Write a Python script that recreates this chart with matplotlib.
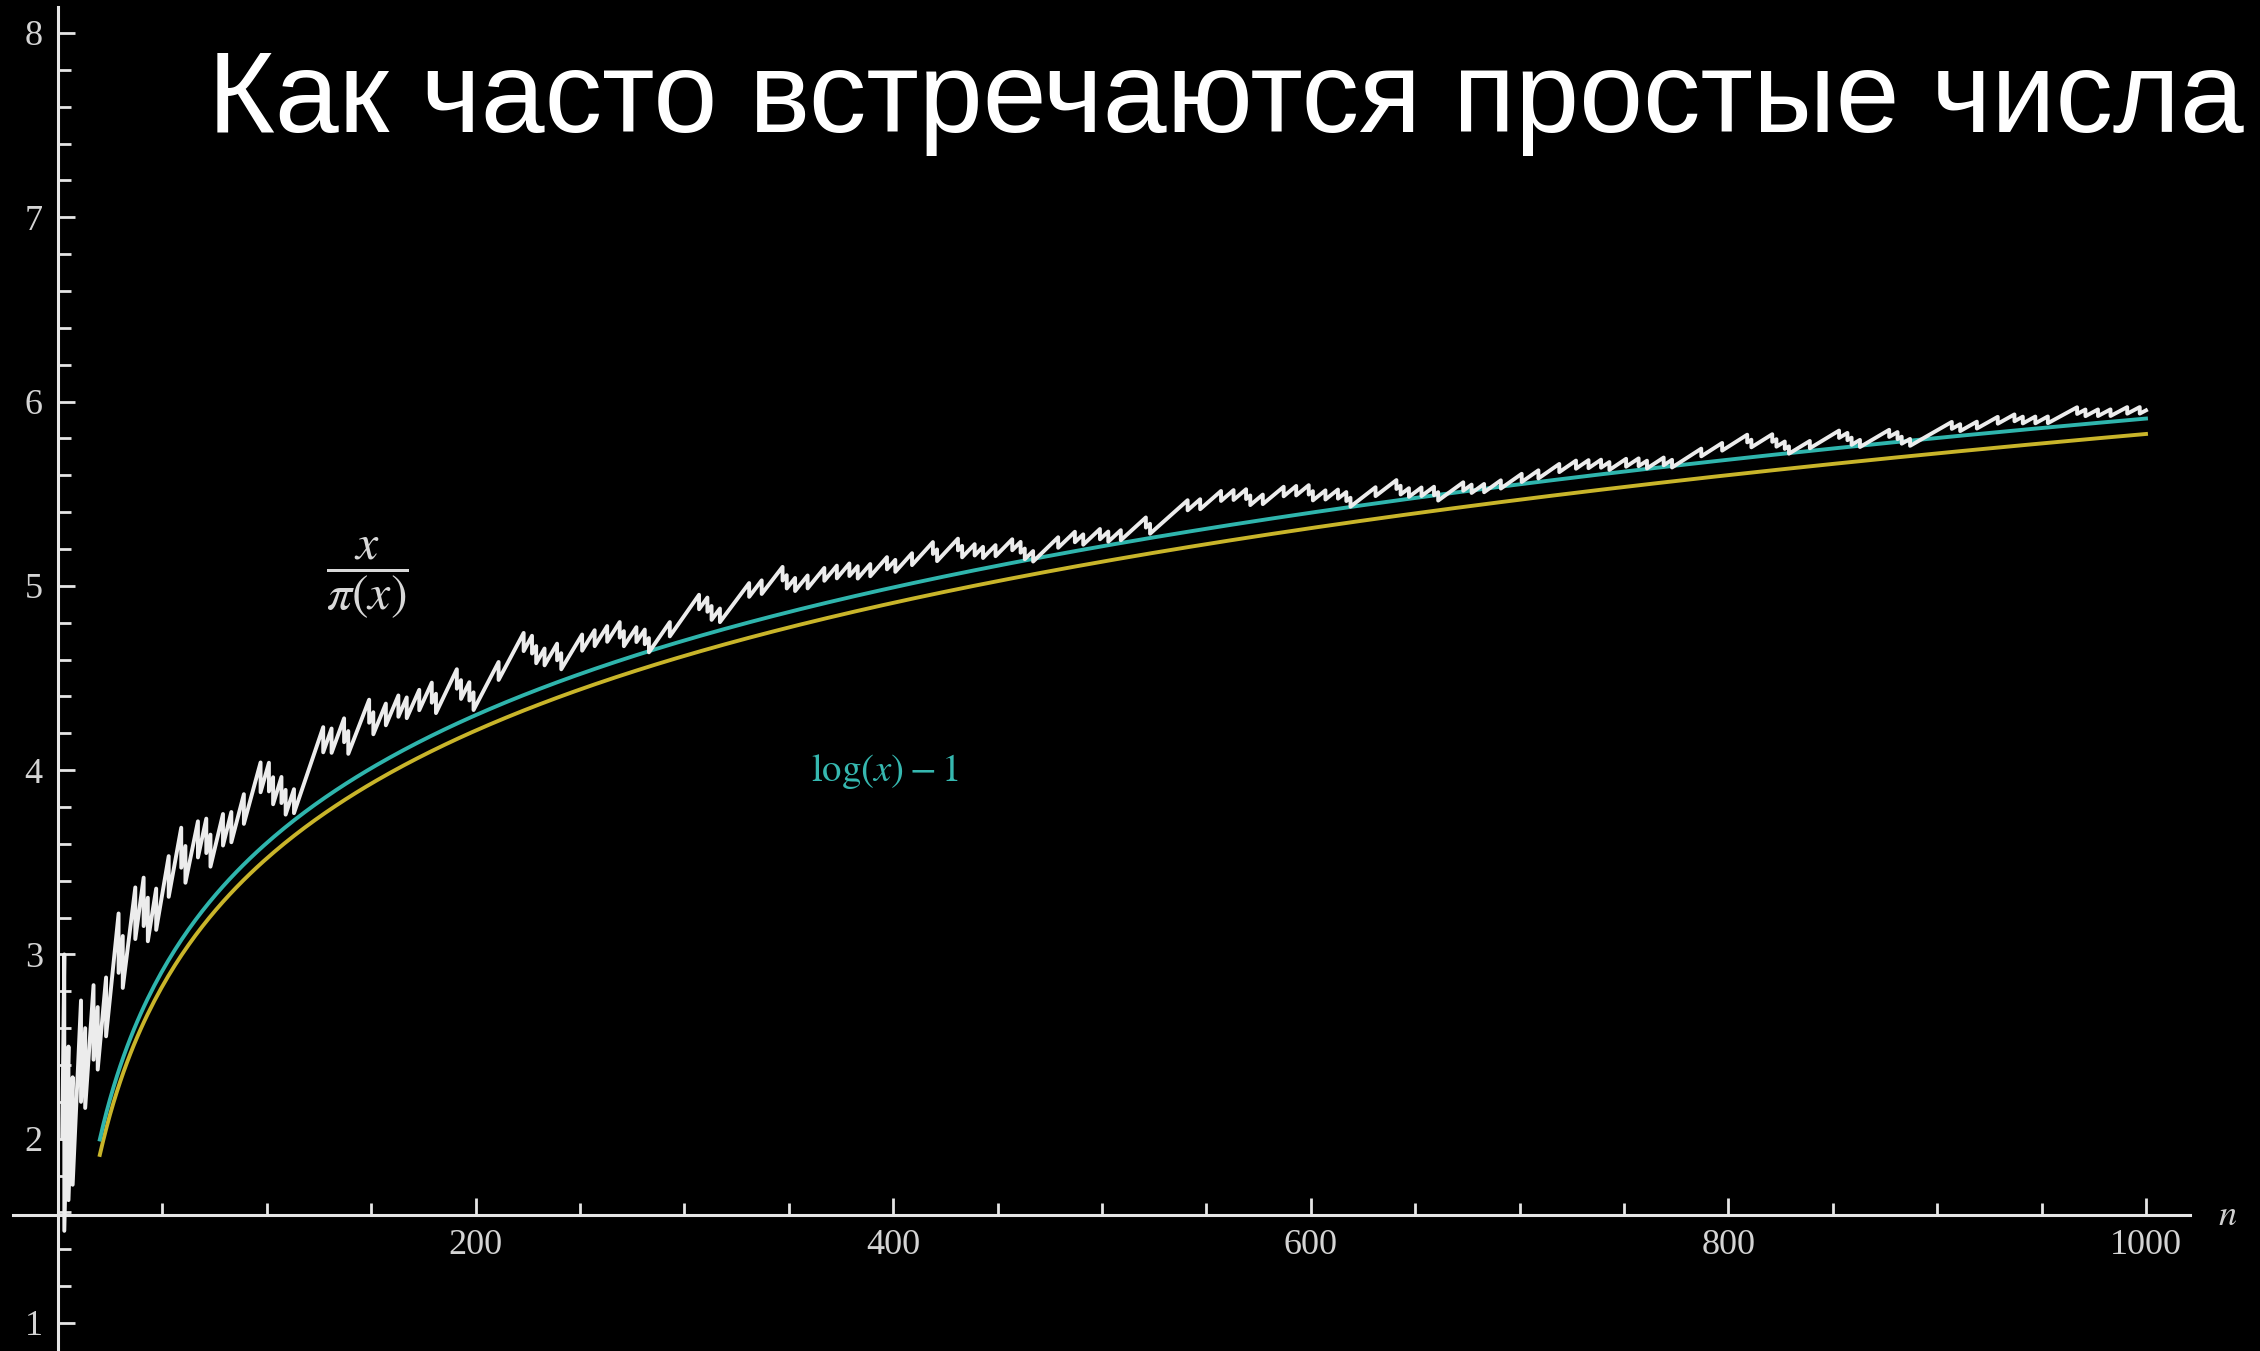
import numpy as np
import matplotlib
matplotlib.use("Agg")
import matplotlib.pyplot as plt
from matplotlib.ticker import FixedLocator

# primes below 1000, pi(x) counts them
primes = [2, 3, 5, 7, 11, 13, 17, 19, 23, 29, 31, 37, 41, 43, 47, 53, 59, 61, 67, 71,
          73, 79, 83, 89, 97, 101, 103, 107, 109, 113, 127, 131, 137, 139, 149, 151, 157,
          163, 167, 173, 179, 181, 191, 193, 197, 199, 211, 223, 227, 229, 233, 239, 241,
          251, 257, 263, 269, 271, 277, 281, 283, 293, 307, 311, 313, 317, 331, 337, 347,
          349, 353, 359, 367, 373, 379, 383, 389, 397, 401, 409, 419, 421, 431, 433, 439,
          443, 449, 457, 461, 463, 467, 479, 487, 491, 499, 503, 509, 521, 523, 541, 547,
          557, 563, 569, 571, 577, 587, 593, 599, 601, 607, 613, 617, 619, 631, 641, 643,
          647, 653, 659, 661, 673, 677, 683, 691, 701, 709, 719, 727, 733, 739, 743, 751,
          757, 761, 769, 773, 787, 797, 809, 811, 821, 823, 827, 829, 839, 853, 857, 859,
          863, 877, 881, 883, 887, 907, 911, 919, 929, 937, 941, 947, 953, 967, 971, 977,
          983, 991, 997]
x_end = 1000
smooth_start = 20
log_shift = 1.0          # log(x) - 1
legendre_shift = 1.08366  # log(x) - 1.08366

x_ticks = [200, 400, 600, 800, 1000]
x_minor = list(range(50, 1001, 50))
y_ticks = [1, 2, 3, 4, 5, 6, 7, 8]
y_minor = [round(0.2 * i, 1) for i in range(5, 41)]

# x / pi(x): rises linearly between primes, drops at each prime
bounds = primes + [x_end]
saw_x, saw_y = [], []
for k in range(len(primes)):
    a, b = bounds[k], bounds[k + 1]
    saw_x += [a, b]
    saw_y += [a / (k + 1), b / (k + 1)]

xs = np.linspace(smooth_start, x_end, 600)

plt.rcParams['mathtext.fontset'] = 'stix'
fig = plt.figure(figsize=(22.6, 13.51), dpi=100, facecolor='black')
ax = fig.add_axes([0, 0, 1, 1], facecolor='black')

ax.plot(xs, np.log(xs) - legendre_shift, color='#c9b52a', lw=2.8, zorder=2)
ax.plot(xs, np.log(xs) - log_shift, color='#2fb5ad', lw=2.8, zorder=3)
ax.plot(saw_x, saw_y, color='#ececec', lw=2.8, zorder=4)

ax.set_xlim(-27.8, 1054.6)
ax.set_ylim(0.848, 8.179)

axis_c = '#e6e6e6'
for s in ['top', 'right']:
    ax.spines[s].set_visible(False)
ax.spines['left'].set_position(('data', 0))
ax.spines['left'].set_bounds(0.848, 8.14)
ax.spines['bottom'].set_position(('data', 1.587))
ax.spines['bottom'].set_bounds(-21.5, 1021)
for s in ['left', 'bottom']:
    ax.spines[s].set_color(axis_c)
    ax.spines[s].set_linewidth(2.2)

ax.xaxis.set_major_locator(FixedLocator(x_ticks))
ax.xaxis.set_minor_locator(FixedLocator([v for v in x_minor if v % 200]))
ax.yaxis.set_major_locator(FixedLocator(y_ticks))
ax.yaxis.set_minor_locator(FixedLocator([v for v in y_minor if v % 1]))
ax.tick_params(which='both', direction='in', color=axis_c, width=2.0,
               labelcolor='#d4d4d4', labelsize=26)
ax.tick_params(which='major', length=12.5)
ax.tick_params(which='minor', length=9)
ax.tick_params(axis='x', pad=10)
ax.tick_params(axis='y', pad=11)
for lbl in ax.get_xticklabels() + ax.get_yticklabels():
    lbl.set_family('Liberation Serif')

ax.text(148, 5.04, r'$\dfrac{x}{\pi(x)}$', color='#d8d8d8', fontsize=36,
        ha='center', va='center')
ax.text(396, 3.99, r'$\log(x) - 1$', color='#36b8b0', fontsize=28,
        ha='center', va='center')
ax.text(1039, 1.587, r'$n$', color='#d0d0d0', fontsize=26,
        ha='center', va='center')

# title scaled to span the slide width
title = fig.text(208 / 2260, 1 - 132 / 1351, 'Как часто встречаются простые числа',
                 color='white', fontsize=84, family='Liberation Sans',
                 ha='left', va='baseline')
r = fig.canvas.get_renderer()
w = title.get_window_extent(r).width
title.set_fontsize(84 * 2035 / w)

fig.savefig('out.png', dpi=100, facecolor='black')
